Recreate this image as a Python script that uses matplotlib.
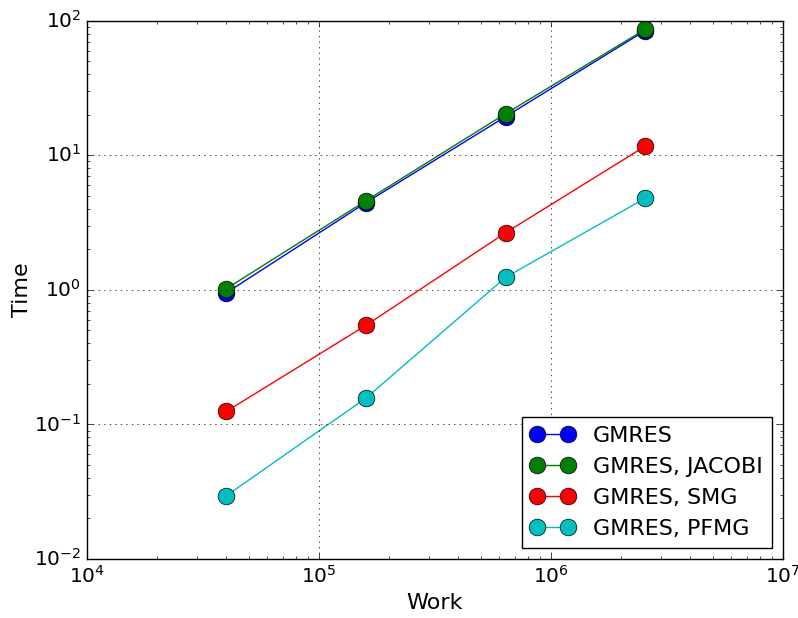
import matplotlib
matplotlib.use("Agg")
import matplotlib.pyplot as plt

plt.style.use("classic")

# Problem size (work) and solve times for each solver setup
work = [4e4, 1.6e5, 6.4e5, 2.56e6]
gmres = [0.95, 4.45, 19.4, 84.5]
gmres_jacobi = [1.02, 4.6, 20.4, 86.5]
gmres_smg = [0.125, 0.545, 2.66, 11.7]
gmres_pfmg = [0.0295, 0.157, 1.24, 4.8]

fig = plt.figure(figsize=(7.98, 6.18), dpi=100)
ax = fig.add_axes([0.1086, 0.0955, 0.8722, 0.871])

ax.loglog(work, gmres, "b-o", markersize=12, label="GMRES")
ax.loglog(work, gmres_jacobi, "g-o", markersize=12, label="GMRES, JACOBI")
ax.loglog(work, gmres_smg, "r-o", markersize=12, label="GMRES, SMG")
ax.loglog(work, gmres_pfmg, "c-o", markersize=12, label="GMRES, PFMG")

ax.set_xlim(1e4, 1e7)
ax.set_ylim(1e-2, 1e2)
ax.set_xlabel("Work", fontsize=16)
ax.set_ylabel("Time", fontsize=16, labelpad=1)
ax.tick_params(labelsize=14.5)
ax.grid(True)
ax.legend(loc="lower right", fontsize=16)

fig.savefig("out.png", dpi=100)
